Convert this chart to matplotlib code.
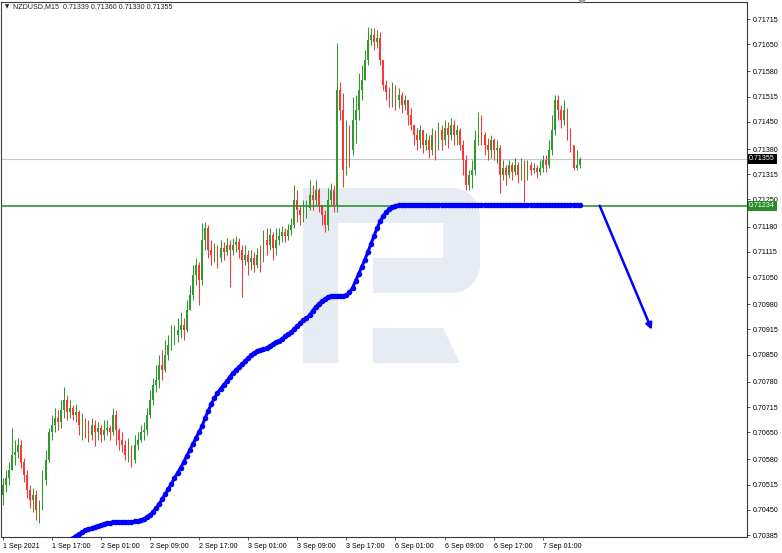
import numpy as np
import matplotlib.pyplot as plt
from matplotlib.patches import Polygon

W, H = 782, 553

closes = [
    0.70514, 0.70532, 0.70553, 0.70591, 0.70599, 0.70617, 0.70573, 0.70540, 0.70501, 0.70475,
    0.70488, 0.70450, 0.70463, 0.70527, 0.70579, 0.70651, 0.70669, 0.70687, 0.70677, 0.70707,
    0.70733, 0.70702, 0.70713, 0.70695, 0.70702, 0.70669, 0.70682, 0.70656, 0.70643, 0.70669,
    0.70651, 0.70661, 0.70643, 0.70656, 0.70661, 0.70651, 0.70695, 0.70656, 0.70630, 0.70617,
    0.70591, 0.70604, 0.70579, 0.70617, 0.70630, 0.70651, 0.70656, 0.70695, 0.70733, 0.70772,
    0.70785, 0.70823, 0.70811, 0.70849, 0.70875, 0.70888, 0.70901, 0.70914, 0.70926, 0.70914,
    0.70965, 0.71004, 0.71055, 0.71081, 0.71042, 0.71146, 0.71176, 0.71120, 0.71107, 0.71120,
    0.71099, 0.71125, 0.71115, 0.71133, 0.71120, 0.71133, 0.71140, 0.71120, 0.71094, 0.71107,
    0.71089, 0.71099, 0.71081, 0.71107, 0.71094, 0.71146, 0.71133, 0.71158, 0.71125, 0.71146,
    0.71156, 0.71166, 0.71156, 0.71171, 0.71184, 0.71249, 0.71223, 0.71210, 0.71223, 0.71228,
    0.71262, 0.71249, 0.71274, 0.71236, 0.71210, 0.71184, 0.71249, 0.71274, 0.71236, 0.71532,
    0.71481, 0.71326, 0.71416, 0.71377, 0.71455, 0.71481, 0.71532, 0.71558, 0.71609, 0.71661,
    0.71674, 0.71656, 0.71666, 0.71609, 0.71545, 0.71527, 0.71506, 0.71537, 0.71506, 0.71519,
    0.71493, 0.71506, 0.71468, 0.71442, 0.71416, 0.71403, 0.71429, 0.71390, 0.71403, 0.71377,
    0.71416, 0.71390, 0.71429, 0.71403, 0.71434, 0.71416, 0.71442, 0.71416, 0.71429, 0.71390,
    0.71352, 0.71287, 0.71313, 0.71326, 0.71403, 0.71442, 0.71416, 0.71390, 0.71377, 0.71403,
    0.71377, 0.71383, 0.71313, 0.71331, 0.71313, 0.71339, 0.71321, 0.71339, 0.71313, 0.71339,
    0.71305, 0.71339, 0.71326, 0.71331, 0.71321, 0.71331, 0.71352, 0.71339, 0.71377, 0.71429,
    0.71506, 0.71481, 0.71455, 0.71481, 0.71429, 0.71390, 0.71331, 0.71339, 0.71355,
]
highs = [
    0.70532, 0.70553, 0.70573, 0.70661, 0.70630, 0.70635, 0.70630, 0.70584, 0.70553, 0.70514,
    0.70506, 0.70501, 0.70475, 0.70553, 0.70604, 0.70661, 0.70695, 0.70713, 0.70707, 0.70733,
    0.70767, 0.70746, 0.70733, 0.70720, 0.70723, 0.70707, 0.70700, 0.70687, 0.70682, 0.70687,
    0.70682, 0.70677, 0.70669, 0.70682, 0.70682, 0.70669, 0.70713, 0.70707, 0.70661, 0.70651,
    0.70630, 0.70635, 0.70617, 0.70643, 0.70651, 0.70669, 0.70677, 0.70713, 0.70759, 0.70790,
    0.70823, 0.70849, 0.70862, 0.70888, 0.70901, 0.70926, 0.70926, 0.70944, 0.70960, 0.70944,
    0.70991, 0.71030, 0.71081, 0.71099, 0.71089, 0.71189, 0.71192, 0.71184, 0.71146, 0.71138,
    0.71133, 0.71146, 0.71140, 0.71151, 0.71146, 0.71151, 0.71156, 0.71151, 0.71133, 0.71133,
    0.71120, 0.71120, 0.71115, 0.71125, 0.71133, 0.71171, 0.71176, 0.71176, 0.71166, 0.71176,
    0.71176, 0.71182, 0.71176, 0.71187, 0.71202, 0.71287, 0.71274, 0.71236, 0.71249, 0.71249,
    0.71300, 0.71287, 0.71300, 0.71280, 0.71236, 0.71223, 0.71280, 0.71292, 0.71287, 0.71653,
    0.71553, 0.71524, 0.71455, 0.71442, 0.71514, 0.71519, 0.71576, 0.71597, 0.71635, 0.71694,
    0.71692, 0.71692, 0.71687, 0.71682, 0.71609, 0.71558, 0.71540, 0.71553, 0.71545, 0.71537,
    0.71527, 0.71519, 0.71506, 0.71486, 0.71442, 0.71434, 0.71442, 0.71429, 0.71421, 0.71416,
    0.71434, 0.71429, 0.71450, 0.71442, 0.71455, 0.71450, 0.71460, 0.71455, 0.71442, 0.71434,
    0.71403, 0.71365, 0.71326, 0.71352, 0.71429, 0.71475, 0.71468, 0.71424, 0.71408, 0.71416,
    0.71408, 0.71403, 0.71390, 0.71352, 0.71339, 0.71352, 0.71347, 0.71357, 0.71347, 0.71357,
    0.71352, 0.71352, 0.71347, 0.71344, 0.71339, 0.71352, 0.71365, 0.71365, 0.71403, 0.71468,
    0.71519, 0.71519, 0.71493, 0.71506, 0.71486, 0.71434, 0.71390, 0.71377, 0.71360,
]
lows = [
    0.70463, 0.70496, 0.70514, 0.70553, 0.70566, 0.70584, 0.70558, 0.70522, 0.70481, 0.70455,
    0.70445, 0.70424, 0.70416, 0.70450, 0.70514, 0.70573, 0.70630, 0.70651, 0.70656, 0.70661,
    0.70687, 0.70682, 0.70687, 0.70682, 0.70677, 0.70643, 0.70630, 0.70635, 0.70625, 0.70630,
    0.70615, 0.70630, 0.70625, 0.70630, 0.70643, 0.70630, 0.70643, 0.70617, 0.70604, 0.70599,
    0.70579, 0.70573, 0.70560, 0.70570, 0.70604, 0.70625, 0.70630, 0.70643, 0.70687, 0.70720,
    0.70754, 0.70764, 0.70785, 0.70805, 0.70836, 0.70862, 0.70875, 0.70883, 0.70893, 0.70888,
    0.70908, 0.70965, 0.70991, 0.71030, 0.70978, 0.71030, 0.71120, 0.71099, 0.71081, 0.71089,
    0.71073, 0.71089, 0.71094, 0.71107, 0.71024, 0.71107, 0.71115, 0.71099, 0.70999, 0.71081,
    0.71055, 0.71068, 0.71063, 0.71073, 0.71063, 0.71089, 0.71107, 0.71120, 0.71094, 0.71107,
    0.71133, 0.71140, 0.71140, 0.71146, 0.71158, 0.71176, 0.71192, 0.71184, 0.71192, 0.71202,
    0.71223, 0.71223, 0.71236, 0.71218, 0.71184, 0.71166, 0.71171, 0.71236, 0.71218, 0.71218,
    0.71455, 0.71282, 0.71313, 0.71334, 0.71365, 0.71396, 0.71455, 0.71506, 0.71558, 0.71597,
    0.71648, 0.71635, 0.71640, 0.71597, 0.71532, 0.71506, 0.71488, 0.71488, 0.71481, 0.71486,
    0.71473, 0.71481, 0.71442, 0.71429, 0.71390, 0.71377, 0.71383, 0.71370, 0.71377, 0.71357,
    0.71365, 0.71352, 0.71377, 0.71377, 0.71390, 0.71383, 0.71403, 0.71390, 0.71390, 0.71377,
    0.71313, 0.71274, 0.71274, 0.71280, 0.71313, 0.71390, 0.71390, 0.71365, 0.71352, 0.71357,
    0.71352, 0.71344, 0.71267, 0.71300, 0.71287, 0.71305, 0.71300, 0.71313, 0.71292, 0.71300,
    0.71243, 0.71300, 0.71313, 0.71318, 0.71305, 0.71313, 0.71321, 0.71321, 0.71331, 0.71365,
    0.71416, 0.71455, 0.71434, 0.71442, 0.71403, 0.71372, 0.71326, 0.71326, 0.71330,
]
first_open = 0.70488
opens = [first_open] + closes[:-1]

# blue dotted indicator, starts at bar 22
ma_first_bar = 22
ma_values = [
    0.70372, 0.70378, 0.70383, 0.70388, 0.70393, 0.70398, 0.70401, 0.70403, 0.70406, 0.70409,
    0.70411, 0.70414, 0.70416, 0.70416, 0.70419, 0.70419, 0.70419, 0.70419, 0.70419, 0.70419,
    0.70419, 0.70420, 0.70421, 0.70424, 0.70426, 0.70432, 0.70437, 0.70445, 0.70455, 0.70465,
    0.70478, 0.70491, 0.70504, 0.70517, 0.70532, 0.70545, 0.70558, 0.70573, 0.70589, 0.70604,
    0.70620, 0.70635, 0.70651, 0.70666, 0.70687, 0.70705, 0.70723, 0.70738, 0.70751, 0.70762,
    0.70772, 0.70782, 0.70792, 0.70803, 0.70811, 0.70818, 0.70826, 0.70834, 0.70841, 0.70849,
    0.70854, 0.70859, 0.70862, 0.70865, 0.70867, 0.70872, 0.70877, 0.70883, 0.70885, 0.70890,
    0.70898, 0.70903, 0.70908, 0.70916, 0.70924, 0.70932, 0.70939, 0.70944, 0.70952, 0.70963,
    0.70973, 0.70981, 0.70988, 0.70993, 0.70999, 0.71001, 0.71001, 0.71001, 0.71001, 0.71001,
    0.71004, 0.71011, 0.71022, 0.71040, 0.71058, 0.71076, 0.71094, 0.71115, 0.71135, 0.71156,
    0.71176, 0.71194, 0.71207, 0.71218, 0.71225, 0.71230, 0.71234, 0.71236,
] + [0.71237] * 59

x_tick_labels = ["1 Sep 2021", "1 Sep 17:00", "2 Sep 01:00", "2 Sep 09:00", "2 Sep 17:00",
                 "3 Sep 01:00", "3 Sep 09:00", "3 Sep 17:00", "6 Sep 01:00", "6 Sep 09:00",
                 "6 Sep 17:00", "7 Sep 01:00"]
y_ticks = [0.71715, 0.71650, 0.71580, 0.71515, 0.71450, 0.71380, 0.71315, 0.71250, 0.71180,
           0.71115, 0.71050, 0.70980, 0.70915, 0.70850, 0.70780, 0.70715, 0.70650, 0.70580,
           0.70515, 0.70450, 0.70385]

level_price = 0.71234
arrow_from = (194.5, 0.71234)
arrow_to = (211.5, 0.70914)

font = "Liberation Sans"
fs = 5.1

fig = plt.figure(figsize=(W / 100, H / 100), dpi=100)
ax = fig.add_axes([1 / W, 16 / H, 746 / W, 535 / H])
ax.set_xlim(-0.5, 242.5)
ax.set_ylim(0.70380, 0.71759)


def px(points):
    return [(x / W, 1 - y / H) for x, y in points]


# watermark logo
wm = "#e6ebf4"
t1 = np.linspace(np.pi / 2, 0, 10)
t2 = np.linspace(0, -np.pi / 2, 10)
bowl = [(338, 188)]
bowl += [(452 + 28 * np.cos(t), 216 - 28 * np.sin(t)) for t in t1]
bowl += [(452 + 28 * np.cos(t), 265 - 28 * np.sin(t)) for t in t2]
bowl += [(373, 293), (373, 258), (443, 258), (443, 223), (338, 223)]
shapes = [
    [(303, 188), (338, 188), (338, 363), (303, 363)],
    bowl,
    [(373, 328), (443, 328), (460, 363), (373, 363)],
]
for s in shapes:
    ax.add_patch(Polygon(px(s), closed=True, fc=wm, ec="none",
                         transform=fig.transFigure, zorder=0))

# candles
x = np.arange(len(closes))
o = np.array(opens)
c = np.array(closes)
hi = np.array(highs)
lo = np.array(lows)
up = c > o
down = c < o
colors = np.where(up, "#2f9a2f", np.where(down, "#ff3535", "#808080"))
ax.vlines(x, lo, hi, colors=colors, lw=0.75, zorder=2)
body = np.maximum(np.abs(c - o), 0.00002)
ax.bar(x, body, bottom=np.minimum(o, c), width=0.55, color=colors, lw=0, zorder=2)

# price lines
ax.axhline(closes[-1], color="#c8c8c8", lw=0.8, zorder=1)
ax.axhline(level_price, color="#1f8a1f", lw=1.1, zorder=3)

# indicator
mx = ma_first_bar + np.arange(len(ma_values))
ax.plot(mx, ma_values, color="#0000ff", lw=2.2, marker="o", ms=4.0, mew=0, zorder=4)

ax.annotate("", xy=arrow_to, xytext=arrow_from,
            arrowprops=dict(arrowstyle="-|>", color="#0000ff", lw=1.8,
                            mutation_scale=9, shrinkA=0, shrinkB=0), zorder=5)

# axes styling
for sp in ax.spines.values():
    sp.set_color("#3a3a3a")
    sp.set_linewidth(0.8)
ax.yaxis.tick_right()
ax.set_yticks(y_ticks)
ax.set_yticklabels([f"{v:.5f}" for v in y_ticks], fontfamily=font)
ax.set_xticks(np.arange(len(x_tick_labels)) * 16)
ax.set_xticklabels(x_tick_labels, ha="left", fontfamily=font)
ax.tick_params(axis="both", direction="out", length=2.5, width=0.6,
               labelsize=fs, color="#3a3a3a", pad=1.5)

# price tags on the right
yax = ax.get_yaxis_transform()
ax.text(1.003, closes[-1], f"{closes[-1]:.5f}", transform=yax, ha="left", va="center",
        fontsize=fs, color="white", fontfamily=font, clip_on=False, zorder=10,
        bbox=dict(boxstyle="square,pad=0.2", fc="black", ec="none"))
ax.text(1.003, level_price, f"{level_price:.5f}", transform=yax, ha="left", va="center",
        fontsize=fs, color="white", fontfamily=font, clip_on=False, zorder=10,
        bbox=dict(boxstyle="square,pad=0.2", fc="#2a8c2a", ec="none"))

# header
fig.text(5 / W, 1 - 7 / H, "\u25bc", fontsize=4, va="center", color="#222222")
fig.text(13 / W, 1 - 7 / H,
         f"NZDUSD,M15  {opens[-1]:.5f} {highs[-1]:.5f} {lows[-1]:.5f} {closes[-1]:.5f}",
         fontsize=fs, va="center", fontfamily=font, color="#222222")
fig.add_artist(Polygon(px([(578, 0), (586, 0), (582, 4)]), closed=True, fc="#a0a0a0",
                       ec="none", transform=fig.transFigure))

fig.savefig("out.png", dpi=100)
